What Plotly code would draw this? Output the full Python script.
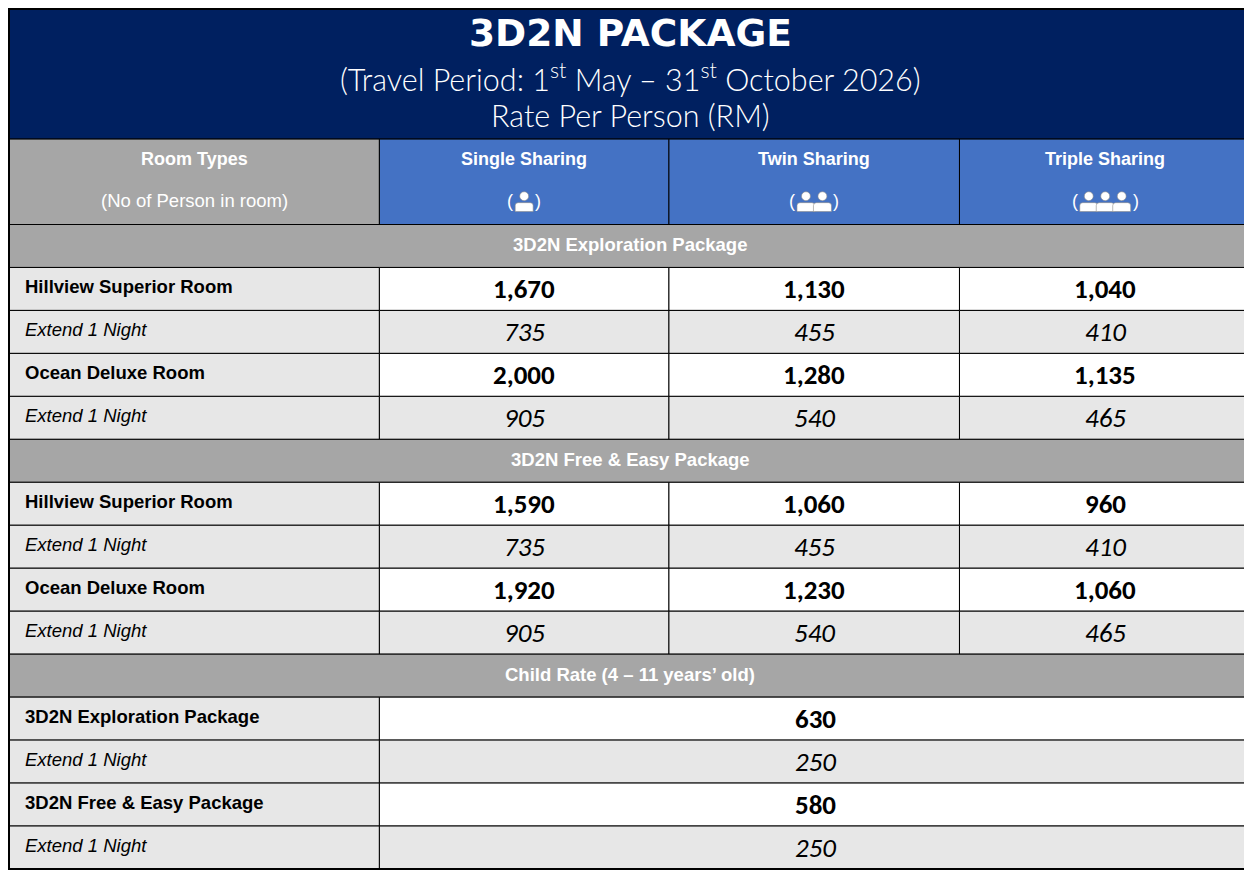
import plotly.graph_objects as go

# ---------------- data ----------------
title = "3D2N PACKAGE"
subtitle = "(Travel Period: 1<sup>st</sup> May – 31<sup>st</sup> October 2026)"
subtitle2 = "Rate Per Person (RM)"
header_label = ["Room Types", "(No of Person in room)"]
columns = ["Single Sharing", "Twin Sharing", "Triple Sharing"]
persons = [1, 2, 3]

sections = ["3D2N Exploration Package", "3D2N Free & Easy Package"]
room_rows = ["Hillview Superior Room", "Extend 1 Night", "Ocean Deluxe Room", "Extend 1 Night"]
exploration_single = [1670, 735, 2000, 905]
exploration_twin = [1130, 455, 1280, 540]
exploration_triple = [1040, 410, 1135, 465]
freeeasy_single = [1590, 735, 1920, 905]
freeeasy_twin = [1060, 455, 1230, 540]
freeeasy_triple = [960, 410, 1060, 465]

child_section = "Child Rate (4 – 11 years’ old)"
child_rows = ["3D2N Exploration Package", "Extend 1 Night", "3D2N Free & Easy Package", "Extend 1 Night"]
child_rate = [630, 250, 580, 250]

# ---------------- layout constants ----------------
W, H = 1252, 873
PAGE_MARGIN = 8  # default body margin of the html page
col_edges = [4, 375, 665, 956, 1248]
top, title_bottom, header_bottom, bottom = 2, 133, 219, 868
n_rows = 15
row_h = (bottom - header_bottom) / n_rows

NAVY = "#002060"
BLUE = "#4472c4"
GRAY = "#a6a6a6"
LIGHT = "#e7e7e7"
WHITE = "#ffffff"

LABEL_FONT = "Liberation Sans, Arial, sans-serif"
NUM_FONT = "Carlito, Calibri, Open Sans, sans-serif"
THIN_FONT = "Lato, Open Sans, sans-serif"

shapes = []
annotations = []


def rect(x0, y0, x1, y1, fill, lw=1):
    shapes.append(dict(type="rect", xref="x", yref="y", x0=x0, y0=y0, x1=x1, y1=y1,
                       fillcolor=fill, line=dict(color="black", width=lw), layer="below"))


def text(x, y, s, size, color="black", family=LABEL_FONT, xanchor="center", weight=None):
    f = dict(size=size, color=color, family=family)
    if weight:
        f["weight"] = weight
    annotations.append(dict(x=x, y=y, xref="x", yref="y", text=s, showarrow=False,
                            xanchor=xanchor, yanchor="middle", font=f))


# title block
rect(col_edges[0], top, col_edges[-1], title_bottom, NAVY, 1)
cx_all = (col_edges[0] + col_edges[-1]) / 2
text(cx_all, 26.5, "<b>" + title + "</b>", 37.5, WHITE, "DejaVu Sans, sans-serif")
text(cx_all, 70, subtitle, 30.5, WHITE, THIN_FONT, weight=300)
text(cx_all, 109, subtitle2, 30.5, WHITE, THIN_FONT, weight=300)

# column header
rect(col_edges[0], title_bottom, col_edges[1], header_bottom, GRAY)
text((col_edges[0] + col_edges[1]) / 2, 153, "<b>" + header_label[0] + "</b>", 18, WHITE)
text((col_edges[0] + col_edges[1]) / 2, 195, header_label[1], 18.5, WHITE)
for i, c in enumerate(columns):
    x0, x1 = col_edges[i + 1], col_edges[i + 2]
    rect(x0, title_bottom, x1, header_bottom, BLUE)
    cx = (x0 + x1) / 2
    text(cx, 153, "<b>" + c + "</b>", 18, WHITE)
    n = persons[i]
    spacing = 16.5
    heads = [cx + (k - (n - 1) / 2) * spacing for k in range(n)]
    for hx in heads:
        shapes.append(dict(type="path", xref="x", yref="y",
                           path=f"M {hx-9},{206} L {hx-9},{200} Q {hx-9},{197} {hx-6},{197} "
                                f"L {hx+6},{197} Q {hx+9},{197} {hx+9},{200} L {hx+9},{206} Z",
                           fillcolor=WHITE, line=dict(color="#8a8a8a", width=0.6)))
        shapes.append(dict(type="circle", xref="x", yref="y", x0=hx - 4.5, x1=hx + 4.5,
                           y0=186, y1=195, fillcolor=WHITE, line=dict(color="#8a8a8a", width=0.6)))
    half = (heads[-1] - heads[0]) / 2 + 14
    text(cx - half, 195, "(", 18, WHITE)
    text(cx + half, 195, ")", 18, WHITE)

# body rows
row = 0


def row_y(r):
    return header_bottom + r * row_h, header_bottom + (r + 1) * row_h


def section_row(label):
    global row
    y0, y1 = row_y(row)
    rect(col_edges[0], y0, col_edges[-1], y1, GRAY)
    text(cx_all, (y0 + y1) / 2 - 1, "<b>" + label + "</b>", 18.5, WHITE)
    row += 1


def label_cell(label, bold, y0, y1):
    rect(col_edges[0], y0, col_edges[1], y1, LIGHT)
    s = "<b>" + label + "</b>" if bold else "<i>" + label + "</i>"
    text(18, (y0 + y1) / 2 - 2, s, 18.5, "black", LABEL_FONT, "left")


for sec, vals in [(sections[0], [exploration_single, exploration_twin, exploration_triple]),
                  (sections[1], [freeeasy_single, freeeasy_twin, freeeasy_triple])]:
    section_row(sec)
    for j, lab in enumerate(room_rows):
        y0, y1 = row_y(row)
        bold = j % 2 == 0
        label_cell(lab, bold, y0, y1)
        for i in range(3):
            x0, x1 = col_edges[i + 1], col_edges[i + 2]
            rect(x0, y0, x1, y1, WHITE if bold else LIGHT)
            v = f"{vals[i][j]:,}"
            s = "<b>" + v + "</b>" if bold else "<i>" + v + "</i>"
            text((x0 + x1) / 2, (y0 + y1) / 2, s, 27, "black", NUM_FONT)
        row += 1

section_row(child_section)
for j, lab in enumerate(child_rows):
    y0, y1 = row_y(row)
    bold = j % 2 == 0
    label_cell(lab, bold, y0, y1)
    rect(col_edges[1], y0, col_edges[-1], y1, WHITE if bold else LIGHT)
    v = f"{child_rate[j]:,}"
    s = "<b>" + v + "</b>" if bold else "<i>" + v + "</i>"
    text((col_edges[1] + col_edges[-1]) / 2, (y0 + y1) / 2, s, 27, "black", NUM_FONT)
    row += 1

# outer border
shapes.append(dict(type="rect", xref="x", yref="y", x0=col_edges[0], y0=top, x1=col_edges[-1], y1=bottom,
                   fillcolor="rgba(0,0,0,0)", line=dict(color="black", width=2)))

# axis ranges chosen so the whole table fits inside the figure, which the page places
# PAGE_MARGIN px from the window's top-left corner
fig_w, fig_h = W - PAGE_MARGIN, H - PAGE_MARGIN
sx = (1251 - 9) / (col_edges[-1] - col_edges[0])
x_lo = col_edges[0] - 1 / sx
x_hi = x_lo + fig_w / sx
sy = (869 - 9) / (bottom - top)
y_lo = top - 1 / sy
y_hi = y_lo + fig_h / sy

fig = go.Figure()
fig.add_trace(go.Scatter(x=[x_lo, x_hi], y=[y_lo, y_hi], mode="markers",
                         marker=dict(opacity=0), hoverinfo="skip", showlegend=False))
fig.update_layout(
    width=fig_w, height=fig_h, margin=dict(l=0, r=0, t=0, b=0),
    paper_bgcolor="white", plot_bgcolor="white",
    xaxis=dict(range=[x_lo, x_hi], visible=False, fixedrange=True),
    yaxis=dict(range=[y_hi, y_lo], visible=False, fixedrange=True),
    shapes=shapes, annotations=annotations, showlegend=False,
)
fig.write_html("out.html")
